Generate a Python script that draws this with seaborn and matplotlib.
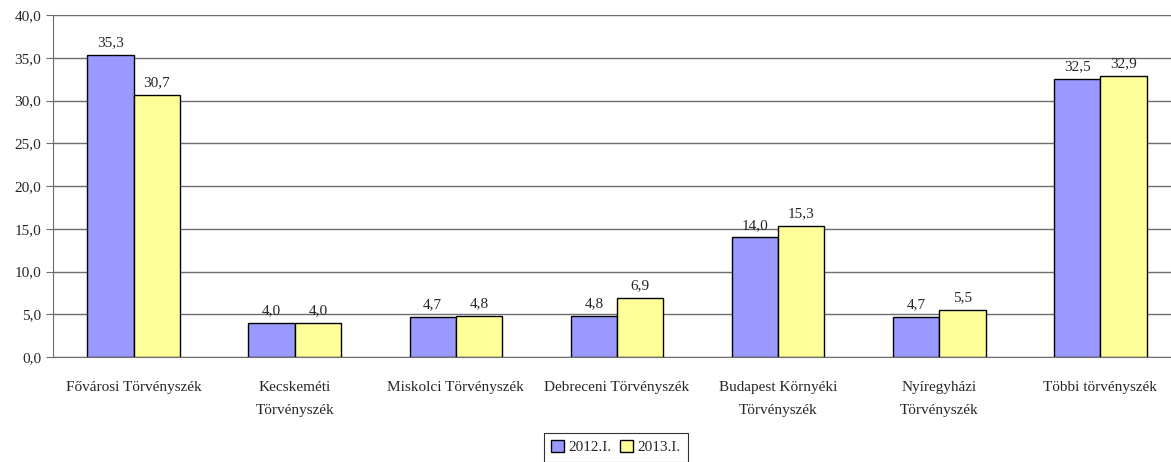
import pandas as pd
import numpy as np
import matplotlib.pyplot as plt
import matplotlib.ticker as mticker
import seaborn as sns

courts = ['Fővárosi Törvényszék', 'Kecskeméti\nTörvényszék', 'Miskolci Törvényszék',
          'Debreceni Törvényszék', 'Budapest Környéki\nTörvényszék',
          'Nyíregyházi\nTörvényszék', 'Többi törvényszék']
v2012 = [35.3, 4.0, 4.7, 4.8, 14.0, 4.7, 32.5]
v2013 = [30.7, 4.0, 4.8, 6.9, 15.3, 5.5, 32.9]
periods = ['2012.I.', '2013.I.']

df = pd.DataFrame({
    'court': courts * 2,
    'value': v2012 + v2013,
    'period': [periods[0]] * len(courts) + [periods[1]] * len(courts),
})

sns.set_style('white')
plt.rcParams['font.family'] = ['Liberation Serif', 'DejaVu Serif']
plt.rcParams['font.size'] = 10

fig = plt.figure(figsize=(11.71, 4.62), dpi=100)
# plot area runs slightly past the right edge of the figure
ax = fig.add_axes([53 / 1171, 1 - 357 / 462, 1128 / 1171, (357 - 15) / 462])

sns.barplot(data=df, x='court', y='value', hue='period', order=courts,
            palette=['#9999FF', '#FFFF99'], edgecolor='black', linewidth=1,
            width=0.575, saturation=1, ax=ax, legend=True)

ax.set_ylim(0, 40)
ax.set_xlim(-0.5, len(courts) - 0.5)
ax.yaxis.set_major_locator(mticker.MultipleLocator(5))
ax.yaxis.set_major_formatter(mticker.FuncFormatter(lambda v, p: f'{v:.1f}'.replace('.', ',')))
ax.grid(axis='y', color='#6e6e6e', linewidth=1)
ax.set_axisbelow(True)
for s in ['top', 'right']:
    ax.spines[s].set_visible(False)
for s in ['left', 'bottom']:
    ax.spines[s].set_color('#6e6e6e')
ax.set_xlabel('')
ax.set_ylabel('')

# category labels centered, tick marks between categories
ax.set_xticks(np.arange(len(courts)))
ax.set_xticklabels(courts, fontsize=11, linespacing=2.0)
ax.tick_params(axis='x', which='major', length=0, pad=17)
ax.set_xticks(np.arange(-0.5, len(courts), 1), minor=True)
ax.tick_params(axis='x', which='minor', length=5, color='#6e6e6e', direction='out')
ax.tick_params(axis='y', length=5, color='#6e6e6e', direction='out', left=True, labelsize=11)

for cont in ax.containers:
    ax.bar_label(cont, labels=[f'{v:.1f}'.replace('.', ',') for v in cont.datavalues],
                 padding=4, fontsize=11)

leg = ax.legend(loc='upper center', bbox_to_anchor=(0.499, -0.199), ncol=2,
                frameon=True, fancybox=False, edgecolor='black', fontsize=11,
                handlelength=0.8, handleheight=0.8, handletextpad=0.3,
                columnspacing=0.6, borderpad=0.5)
leg.get_frame().set_linewidth(0.8)

fig.savefig('out.png', dpi=100)
